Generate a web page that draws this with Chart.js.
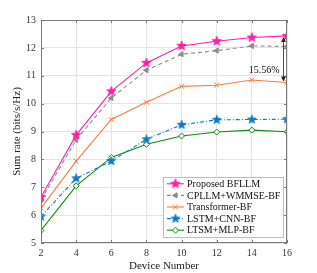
<!DOCTYPE html>
<html>
<head>
<meta charset="utf-8">
<script src="https://cdn.jsdelivr.net/npm/chart.js@4.4.1/dist/chart.umd.min.js"></script>
<style>
  html, body { margin: 0; padding: 0; background: #fff; }
  #wrap { width: 317px; height: 273px; }
</style>
</head>
<body>
<div id="wrap"><canvas id="chart" width="317" height="273"></canvas></div>
<script>
// ===== DATA =====
const deviceNumbers = [2, 4, 6, 8, 10, 12, 14, 16];
const yTicks = [5, 6, 7, 8, 9, 10, 11, 12, 13];
const seriesNames = ['Proposed BFLLM', 'CPLLM+WMMSE-BF', 'Transformer-BF', 'LSTM+CNN-BF', 'LTSM+MLP-BF'];
const proposed    = [6.65, 8.87, 10.44, 11.46, 12.07, 12.24, 12.37, 12.43];
const cpllm       = [6.55, 8.70, 10.20, 11.20, 11.77, 11.90, 12.07, 12.05];
const transformer = [6.25, 7.94, 9.43, 10.05, 10.62, 10.66, 10.85, 10.76];
const lstmCnn     = [5.95, 7.32, 7.94, 8.72, 9.24, 9.42, 9.43, 9.44];
const ltsmMlp     = [5.45, 7.05, 8.07, 8.54, 8.84, 8.98, 9.05, 8.99];
const gapLabel = '15.56%';

const SERIF = '"Liberation Serif", "Times New Roman", serif';

// filled five point star as point image
function makeStar(color, r) {
  const c = document.createElement('canvas');
  const s = Math.ceil(r * 2 + 2);
  c.width = s; c.height = s;
  const g = c.getContext('2d');
  g.beginPath();
  for (let i = 0; i < 10; i++) {
    const rad = i % 2 === 0 ? r : r * 0.42;
    const a = -Math.PI / 2 + i * Math.PI / 5;
    const px = s / 2 + rad * Math.cos(a), py = s / 2 + rad * Math.sin(a);
    if (i === 0) g.moveTo(px, py); else g.lineTo(px, py);
  }
  g.closePath();
  g.fillStyle = color;
  g.fill();
  g.strokeStyle = color;
  g.lineWidth = 0.8;
  g.stroke();
  return c;
}

const styles = [
  { color: '#ff1fa5', dash: [], point: makeStar('#ff1fa5', 5), radius: 5, rot: 0, fill: '#ff1fa5' },
  { color: '#8c8c8c', dash: [4, 3], point: 'triangle', radius: 3, rot: -90, fill: '#8c8c8c' },
  { color: '#ff7a3d', dash: [], point: 'crossRot', radius: 3.5, rot: 0, fill: '#ff7a3d' },
  { color: '#0a78c8', dash: [4, 2, 1, 2], point: makeStar('#0a78c8', 4.6), radius: 5, rot: 0, fill: '#0a78c8' },
  { color: '#108a10', dash: [], point: 'rectRot', radius: 3, rot: 0, fill: '#ffffff' }
];
const seriesData = [proposed, cpllm, transformer, lstmCnn, ltsmMlp];

const datasets = seriesData.map((d, i) => ({
  label: seriesNames[i],
  data: d,
  borderColor: styles[i].color,
  backgroundColor: styles[i].fill,
  borderWidth: 1.1,
  borderDash: styles[i].dash,
  pointStyle: styles[i].point,
  pointRadius: styles[i].radius,
  pointRotation: styles[i].rot,
  pointBorderColor: styles[i].color,
  pointBackgroundColor: styles[i].fill,
  pointBorderWidth: 1,
  tension: 0
}));

// ===== PLUGINS =====
// frame box + inside ticks (MATLAB style)
const framePlugin = {
  id: 'frame',
  afterDatasetsDraw(chart) {
    const { ctx, chartArea: a, scales } = chart;
    ctx.save();
    ctx.strokeStyle = '#7a7a7a';
    ctx.lineWidth = 1;
    ctx.strokeRect(a.left + 0.5, a.top + 0.5, a.right - a.left - 1, a.bottom - a.top - 1);
    ctx.beginPath();
    deviceNumbers.forEach(v => {
      const x = Math.round(scales.x.getPixelForValue(v)) + 0.5;
      ctx.moveTo(x, a.bottom); ctx.lineTo(x, a.bottom - 3);
      ctx.moveTo(x, a.top); ctx.lineTo(x, a.top + 3);
    });
    yTicks.forEach(v => {
      const y = Math.round(scales.y.getPixelForValue(v)) + 0.5;
      ctx.moveTo(a.left, y); ctx.lineTo(a.left + 3, y);
      ctx.moveTo(a.right, y); ctx.lineTo(a.right - 3, y);
    });
    ctx.stroke();
    ctx.restore();
  }
};

// double arrow with gap percentage
const gapPlugin = {
  id: 'gap',
  afterDatasetsDraw(chart) {
    const { ctx, scales } = chart;
    const x = scales.x.getPixelForValue(16) - 3.5;
    const yTop = scales.y.getPixelForValue(proposed[7]) + 1;
    const yBot = scales.y.getPixelForValue(transformer[7]) - 1;
    ctx.save();
    ctx.strokeStyle = '#222';
    ctx.fillStyle = '#222';
    ctx.lineWidth = 0.8;
    ctx.beginPath();
    ctx.moveTo(x, yTop + 4); ctx.lineTo(x, yBot - 4);
    ctx.stroke();
    ctx.beginPath();
    ctx.moveTo(x, yTop); ctx.lineTo(x - 2.5, yTop + 5); ctx.lineTo(x + 2.5, yTop + 5); ctx.closePath();
    ctx.moveTo(x, yBot); ctx.lineTo(x - 2.5, yBot - 5); ctx.lineTo(x + 2.5, yBot - 5); ctx.closePath();
    ctx.fill();
    ctx.font = '10px ' + SERIF;
    ctx.textAlign = 'right';
    ctx.textBaseline = 'middle';
    ctx.fillStyle = '#111';
    ctx.fillText(gapLabel, x - 4, scales.y.getPixelForValue(11.2));
    ctx.restore();
  }
};

// legend drawn inside the axes, bottom right
const legendPlugin = {
  id: 'boxLegend',
  afterDraw(chart) {
    const { ctx, chartArea: a } = chart;
    const w = 120, rowH = 11.6, h = rowH * seriesNames.length + 2;
    const left = a.right - w - 4, top = a.bottom - h - 6;
    ctx.save();
    ctx.fillStyle = '#fff';
    ctx.fillRect(left, top, w, h);
    ctx.strokeStyle = '#bdbdbd';
    ctx.lineWidth = 1;
    ctx.strokeRect(left + 0.5, top + 0.5, w, h);
    ctx.font = '10px ' + SERIF;
    ctx.textBaseline = 'middle';
    chart.data.datasets.forEach((ds, i) => {
      const cy = top + 1 + rowH * i + rowH / 2;
      ctx.strokeStyle = ds.borderColor;
      ctx.lineWidth = 1.1;
      ctx.setLineDash(ds.borderDash);
      ctx.beginPath();
      ctx.moveTo(left + 4, cy); ctx.lineTo(left + 21, cy);
      ctx.stroke();
      ctx.setLineDash([]);
      ctx.fillStyle = ds.pointBackgroundColor;
      ctx.strokeStyle = ds.pointBorderColor;
      ctx.lineWidth = 1;
      Chart.helpers.drawPoint(ctx, {
        pointStyle: ds.pointStyle,
        rotation: ds.pointRotation,
        radius: ds.pointRadius,
        borderWidth: 1
      }, left + 12.5, cy);
      ctx.fillStyle = '#111';
      ctx.textAlign = 'left';
      ctx.fillText(ds.label, left + 24, cy + 0.5);
    });
    ctx.restore();
  }
};

// ===== CHART =====
const ctx = document.getElementById('chart');
new Chart(ctx, {
  type: 'line',
  data: { labels: deviceNumbers, datasets },
  options: {
    responsive: false,
    animation: false,
    layout: { padding: { top: 20, right: 30, left: 11, bottom: 0 } },
    plugins: { legend: { display: false }, tooltip: { enabled: false } },
    scales: {
      x: {
        type: 'linear',
        min: 2, max: 16,
        afterBuildTicks(s) { s.ticks = deviceNumbers.map(v => ({ value: v })); },
        afterFit(s) { s.height = 30; },
        grid: { color: '#e4e4e4', lineWidth: 1, drawTicks: false },
        border: { display: false },
        ticks: { color: '#333', font: { family: SERIF, size: 10 }, padding: 4, maxRotation: 0 },
        title: { display: true, text: 'Device Number', color: '#222', font: { family: SERIF, size: 11 }, padding: { top: 0, bottom: 0 } }
      },
      y: {
        min: 5, max: 13,
        afterBuildTicks(s) { s.ticks = yTicks.map(v => ({ value: v })); },
        afterFit(s) { s.width = 30; },
        grid: { color: '#e4e4e4', lineWidth: 1, drawTicks: false },
        border: { display: false },
        ticks: { color: '#333', font: { family: SERIF, size: 10 }, padding: 5 },
        title: { display: true, text: 'Sum rate (bits/s/Hz)', color: '#222', font: { family: SERIF, size: 11 }, padding: { top: 0, bottom: 2 } }
      }
    }
  },
  plugins: [framePlugin, gapPlugin, legendPlugin]
});
</script>
</body>
</html>
